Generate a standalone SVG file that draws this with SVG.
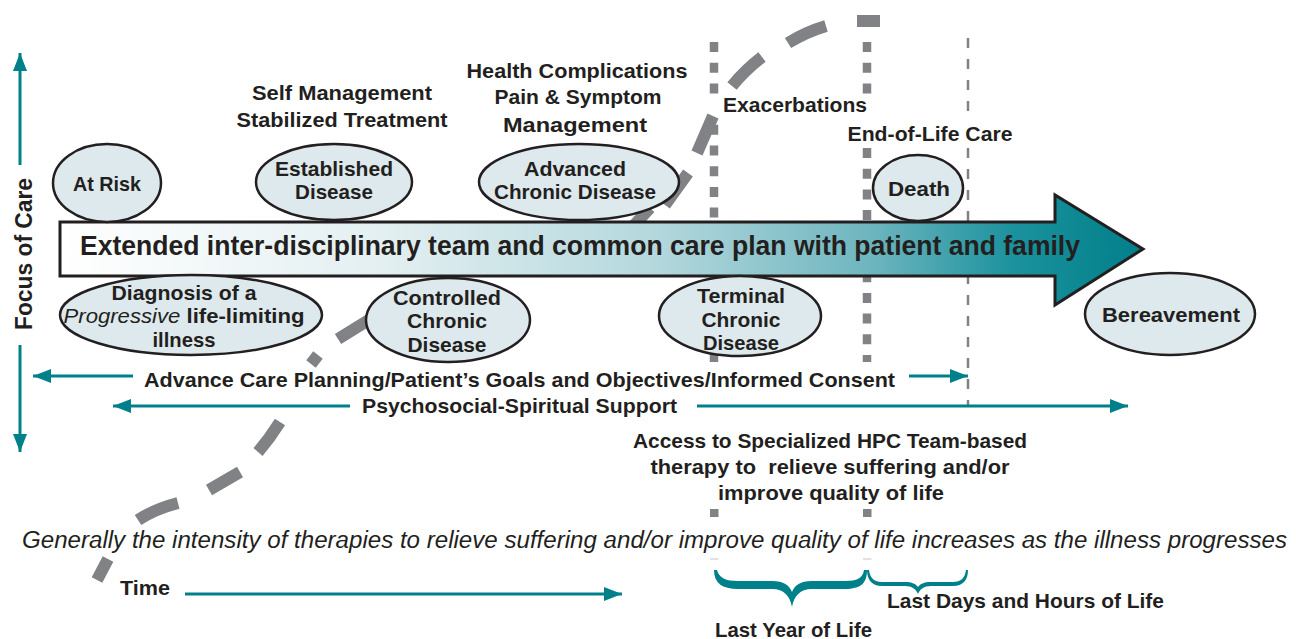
<svg xmlns="http://www.w3.org/2000/svg" width="1296" height="639" viewBox="0 0 1296 639">
<defs>
<style>
.t{font-family:"Liberation Sans",Arial,sans-serif;font-weight:700;font-size:21px;fill:#231f20;}
.m{text-anchor:middle;}
.it{font-family:"Liberation Sans",Arial,sans-serif;font-style:italic;font-size:23px;fill:#231f20;}
.node ellipse{fill:#dde9ec;stroke:#231f20;stroke-width:2.5;}
.teal{stroke:#00808b;stroke-width:3;fill:none;marker-end:url(#ah);}
.dot{stroke:#808285;stroke-width:8.5;stroke-dasharray:10 10.7;fill:none;}
.thin{stroke:#808285;stroke-width:2.5;stroke-dasharray:10 11;fill:none;}
.curve{stroke:#808285;stroke-width:12;fill:none;stroke-linecap:butt;}
.brace{fill:#00808b;}
</style>
<marker id="ah" markerUnits="userSpaceOnUse" markerWidth="19" markerHeight="14" refX="18" refY="7" orient="auto">
<path d="M0,0 L18,7 L0,14 Z" fill="#00808b"/>
</marker>
<linearGradient id="ag" gradientUnits="userSpaceOnUse" x1="60" y1="0" x2="1143" y2="0">
<stop offset="0" stop-color="#ffffff"/>
<stop offset="0.3" stop-color="#e3eff1"/>
<stop offset="0.55" stop-color="#b4d8dd"/>
<stop offset="0.75" stop-color="#6db5be"/>
<stop offset="0.88" stop-color="#1b929d"/>
<stop offset="1" stop-color="#007f8a"/>
</linearGradient>
</defs>
<rect width="1296" height="639" fill="#ffffff"/>

<g id="phase-lines">
<path class="dot" d="M714,42 V94 M714,124.8 V362 M867,42 V94 M867,148 V362"/>
<rect x="710" y="509" width="8.5" height="8" fill="#808285"/>
<rect x="863" y="509" width="8.5" height="8" fill="#808285"/>
<rect x="710" y="558" width="8.5" height="2" fill="#e2e2e3"/>
<rect x="863" y="558" width="8.5" height="2" fill="#e2e2e3"/>
<path class="thin" d="M968,38 V122 M968,148 V405"/>
</g>

<g id="intensity-curve">
<path class="curve" d="M97,580 L108,559 M138,520 Q155,509 178,503 M209,490 L240,472 M258,452 Q270,438 280,422 M311,364 L318,355 M338,339 L380,313 M625,235 L650,208 M665,205 L688,173 M697,153 L713,116 M732,86 Q745,70 762,57 M788,43 Q806,32 826,26 M857,21 L880,21"/>
</g>

<g id="care-arrow">
<polygon points="60,222 1055,222 1055,195 1143,249 1055,305 1055,276 60,276" fill="url(#ag)" stroke="#231f20" stroke-width="3" stroke-linejoin="miter"/>
<text class="t" x="80" y="255" style="font-size:28px" textLength="1000" lengthAdjust="spacingAndGlyphs">Extended inter-disciplinary team and common care plan with patient and family</text>
</g>

<g id="at-risk" class="node">
<ellipse cx="107" cy="183" rx="54" ry="39"/>
<text class="t m" x="107" y="191" textLength="68" lengthAdjust="spacingAndGlyphs">At Risk</text>
</g>
<g id="established-disease" class="node">
<ellipse cx="334" cy="182" rx="78" ry="38"/>
<text class="t m" x="334" y="176" textLength="118" lengthAdjust="spacingAndGlyphs">Established</text>
<text class="t m" x="334" y="199" textLength="78" lengthAdjust="spacingAndGlyphs">Disease</text>
</g>
<g id="advanced-chronic-disease" class="node">
<ellipse cx="579" cy="182" rx="100" ry="38"/>
<text class="t m" x="575" y="176" textLength="102" lengthAdjust="spacingAndGlyphs">Advanced</text>
<text class="t m" x="575" y="199" textLength="162" lengthAdjust="spacingAndGlyphs">Chronic Disease</text>
</g>
<g id="death" class="node">
<ellipse cx="918" cy="188" rx="45" ry="33"/>
<text class="t m" x="919" y="196" textLength="62" lengthAdjust="spacingAndGlyphs">Death</text>
</g>
<g id="diagnosis" class="node">
<ellipse cx="191" cy="315" rx="131" ry="40"/>
<text class="t m" x="184" y="300" textLength="145" lengthAdjust="spacingAndGlyphs">Diagnosis of a</text>
<text class="t m" x="184" y="323" textLength="241" lengthAdjust="spacingAndGlyphs"><tspan style="font-style:italic;font-weight:400">Progressive</tspan> life-limiting</text>
<text class="t m" x="184" y="347" textLength="63" lengthAdjust="spacingAndGlyphs">illness</text>
</g>
<g id="controlled-chronic-disease" class="node">
<ellipse cx="448" cy="320" rx="82" ry="42"/>
<text class="t m" x="447" y="305" textLength="108" lengthAdjust="spacingAndGlyphs">Controlled</text>
<text class="t m" x="447" y="328" textLength="80" lengthAdjust="spacingAndGlyphs">Chronic</text>
<text class="t m" x="447" y="352" textLength="79" lengthAdjust="spacingAndGlyphs">Disease</text>
</g>
<g id="terminal-chronic-disease" class="node">
<ellipse cx="740" cy="316" rx="81" ry="40"/>
<text class="t m" x="741" y="303" textLength="88" lengthAdjust="spacingAndGlyphs">Terminal</text>
<text class="t m" x="741" y="327" textLength="79" lengthAdjust="spacingAndGlyphs">Chronic</text>
<text class="t m" x="741" y="350" textLength="76" lengthAdjust="spacingAndGlyphs">Disease</text>
</g>
<g id="bereavement" class="node">
<ellipse cx="1170" cy="314" rx="85" ry="41"/>
<text class="t m" x="1171" y="322" textLength="138" lengthAdjust="spacingAndGlyphs">Bereavement</text>
</g>

<g id="stage-labels">
<text class="t m" x="342" y="100" textLength="180" lengthAdjust="spacingAndGlyphs">Self Management</text>
<text class="t m" x="342" y="127" textLength="211" lengthAdjust="spacingAndGlyphs">Stabilized Treatment</text>
<text class="t m" x="577" y="78" textLength="221" lengthAdjust="spacingAndGlyphs">Health Complications</text>
<text class="t m" x="578" y="104" textLength="167" lengthAdjust="spacingAndGlyphs">Pain &amp; Symptom</text>
<text class="t m" x="575" y="132" textLength="144" lengthAdjust="spacingAndGlyphs">Management</text>
<text class="t m" x="795" y="112" textLength="144" lengthAdjust="spacingAndGlyphs">Exacerbations</text>
<text class="t m" x="930" y="141" textLength="165" lengthAdjust="spacingAndGlyphs">End-of-Life Care</text>
</g>

<g id="connectors">
<line class="teal" x1="20" y1="165" x2="20" y2="53"/>
<line class="teal" x1="20" y1="345" x2="20" y2="452"/>
<line class="teal" x1="133" y1="376" x2="33" y2="376"/>
<line class="teal" x1="909" y1="376" x2="968" y2="376"/>
<line class="teal" x1="350" y1="406" x2="113" y2="406"/>
<line class="teal" x1="697" y1="406" x2="1128" y2="406"/>
<line class="teal" x1="185" y1="594" x2="622" y2="594"/>
</g>

<g id="axis-labels">
<text class="t m" transform="translate(32,254) rotate(-90)" style="font-size:24px" textLength="152" lengthAdjust="spacingAndGlyphs">Focus of Care</text>
<text class="t" x="120" y="595" textLength="50" lengthAdjust="spacingAndGlyphs">Time</text>
<text class="t" x="144" y="387" textLength="751" lengthAdjust="spacingAndGlyphs">Advance Care Planning/Patient’s Goals and Objectives/Informed Consent</text>
<text class="t" x="362" y="413" textLength="315" lengthAdjust="spacingAndGlyphs">Psychosocial-Spiritual Support</text>
<text class="t m" x="830" y="448" textLength="394" lengthAdjust="spacingAndGlyphs">Access to Specialized HPC Team-based</text>
<text class="t m" x="830" y="474" xml:space="preserve" textLength="359" lengthAdjust="spacingAndGlyphs">therapy to  relieve suffering and/or</text>
<text class="t m" x="831" y="500" textLength="226" lengthAdjust="spacingAndGlyphs">improve quality of life</text>
<text class="it" x="22" y="548" textLength="1265" lengthAdjust="spacingAndGlyphs">Generally the intensity of therapies to relieve suffering and/or improve quality of life increases as the illness progresses</text>
</g>

<g id="periods">
<path class="brace" d="M714,570 C714,583 722,589 738,589 L772,589 C784,589 790,596 792,607 C794,596 800,589 812,589 L845,589 C861,589 867,583 867,570 L864,570 C863,578 857,581 845,581 L812,581 C800,581 795,585 792,592 C789,585 784,581 772,581 L738,581 C726,581 719,578 717,570 Z"/>
<path class="brace" d="M867,570 C867,580 872,586 882,586 L905,586 C912,586 916,589 918,594 C920,589 924,586 931,586 L953,586 C963,586 968,580 968,570 L966,570 C965,578 961,582 953,582 L931,582 C924,582 920,584 918,587 C916,584 912,582 905,582 L882,582 C874,582 870,578 869,570 Z"/>
<text class="t" x="887" y="608" textLength="277" lengthAdjust="spacingAndGlyphs">Last Days and Hours of Life</text>
<text class="t" x="715" y="637" textLength="157" lengthAdjust="spacingAndGlyphs">Last Year of Life</text>
</g>
</svg>
